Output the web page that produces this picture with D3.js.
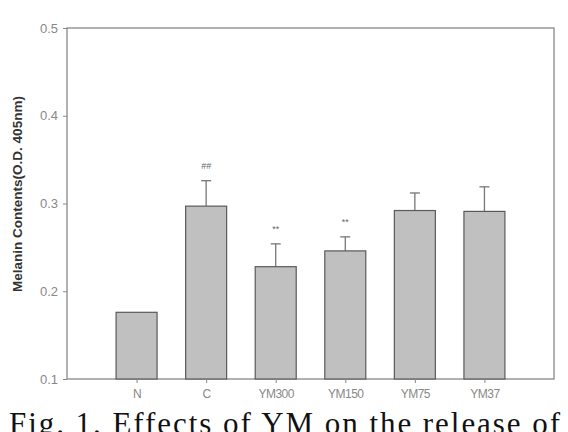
<!DOCTYPE html>
<html><head><meta charset="utf-8">
<script src="https://cdn.jsdelivr.net/npm/d3@7"></script>
<style>body{margin:0;background:#fff;}svg{display:block;}</style>
</head><body>
<script>
const categories = ["N","C","YM300","YM150","YM75","YM37"];
const values = [0.176, 0.297, 0.228, 0.246, 0.292, 0.291];
const errors = [0.001, 0.029, 0.026, 0.016, 0.020, 0.028];
const marks = ["", "##", "**", "**", "", ""];
const yTicks = [0.1, 0.2, 0.3, 0.4, 0.5];

const W = 568, H = 432;
const m = {left:67, top:28, right:554, bottom:379};
const svg = d3.select("body").append("svg").attr("width",W).attr("height",H);

const y = d3.scaleLinear().domain([0.1,0.5]).range([m.bottom,m.top]);
const x = d3.scaleLinear().domain([0,categories.length+1]).range([m.left,m.right]);
const bw = 41;
const axisCol = "#888";
const sans = "Liberation Sans, Arial, sans-serif";

// frame
svg.append("rect").attr("x",m.left).attr("y",m.top).attr("width",m.right-m.left).attr("height",m.bottom-m.top)
  .attr("fill","none").attr("stroke",axisCol).attr("stroke-width",1.3);

// bars
const g = svg.append("g");
categories.forEach((c,i)=>{
  const cx = x(i+1);
  if (errors[i] > 0.002) {
    g.append("line").attr("x1",cx).attr("x2",cx).attr("y1",y(values[i])).attr("y2",y(values[i]+errors[i]))
      .attr("stroke","#777").attr("stroke-width",1.3);
    g.append("line").attr("x1",cx-5).attr("x2",cx+5).attr("y1",y(values[i]+errors[i])).attr("y2",y(values[i]+errors[i]))
      .attr("stroke","#777").attr("stroke-width",1.3);
  }
  g.append("rect").attr("x",cx-bw/2).attr("y",y(values[i])).attr("width",bw).attr("height",y(0.1)-y(values[i]))
    .attr("fill","#c0c0c0").attr("stroke","#5a5a5a").attr("stroke-width",1.2);
  if (marks[i]) {
    g.append("text").attr("x",cx).attr("y",y(values[i]+errors[i])-12).attr("text-anchor","middle")
      .attr("font-family",sans).attr("font-size",9).attr("fill","#666").text(marks[i]);
  }
});

// y axis
const ya = svg.append("g").attr("transform",`translate(${m.left},0)`)
  .call(d3.axisLeft(y).tickValues(yTicks).tickFormat(d3.format(".1f")).tickSize(4).tickPadding(5));
ya.select(".domain").remove();
ya.selectAll("line").attr("stroke",axisCol);
ya.selectAll("text").attr("font-family",sans).attr("font-size",13).attr("fill","#888");

// x axis
const xa = svg.append("g").attr("transform",`translate(0,${m.bottom})`)
  .call(d3.axisBottom(x).tickValues(categories.map((c,i)=>i+1)).tickFormat((d)=>categories[d-1]).tickSize(4).tickPadding(6));
xa.select(".domain").remove();
xa.selectAll("line").attr("stroke",axisCol);
xa.selectAll("text").attr("font-family",sans).attr("font-size",12).attr("letter-spacing",-0.5).attr("fill","#888");

// y label
svg.append("text").attr("transform",`translate(22,194) rotate(-90)`)
  .attr("text-anchor","middle").attr("font-family",sans)
  .attr("font-size",13.5).attr("font-weight","bold").attr("fill","#333").text("Melanin Contents(O.D. 405nm)");

// caption
svg.append("text").attr("x",9).attr("y",434).attr("font-family","Liberation Serif, Times New Roman, serif")
  .attr("font-size",31).attr("fill","#111").attr("textLength",551).attr("lengthAdjust","spacing")
  .text("Fig. 1. Effects of YM on the release of");
</script>
</body></html>
